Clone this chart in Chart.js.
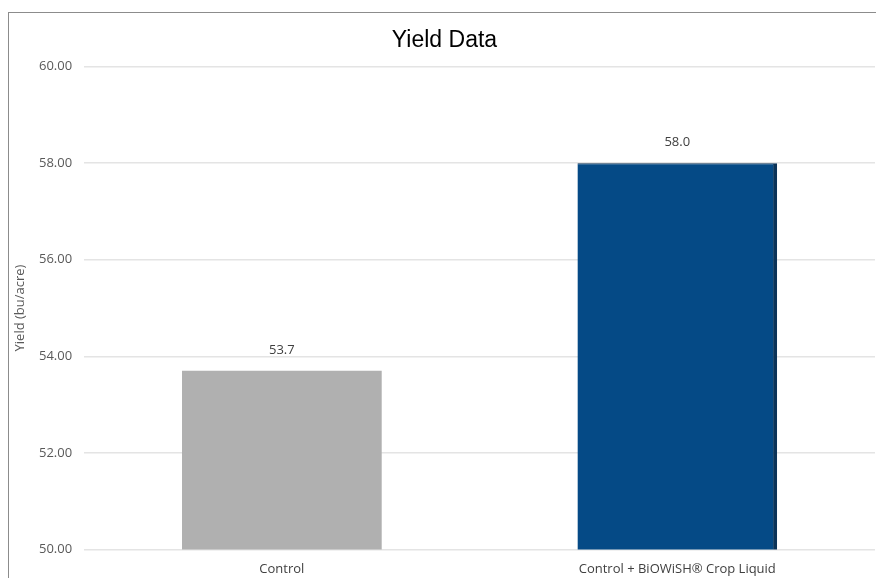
<!DOCTYPE html>
<html>
<head>
<meta charset="utf-8">
<script src="https://cdn.jsdelivr.net/npm/chart.js@4.4.0/dist/chart.umd.min.js"></script>
<style>
  html, body { margin: 0; padding: 0; background: #fff; }
  #wrap { position: relative; width: 876px; height: 578px; overflow: hidden; }
  #frame { position: absolute; left: 8px; top: 12px; width: 900px; height: 600px;
           border-left: 1px solid #8c8c8c; border-top: 1px solid #8c8c8c; }
  canvas { position: absolute; left: 0; top: 0; }
</style>
</head>
<body>
<div id="wrap">
  <div id="frame"></div>
  <canvas id="yieldChart" width="876" height="589"></canvas>
</div>
<script>
const categories = ['Control', 'Control + BiOWiSH\u00ae Crop Liquid'];
const yieldValues = [53.7, 58.0];
const barColors = ['#b0b0b0', '#054a86'];
const edgeColors = ['#b0b0b0', '#0b3358'];

const tickFont = "'Open Sans', sans-serif";

// draws the value above each bar, one decimal like the original
const valueLabels = {
    id: 'valueLabels',
    afterDatasetsDraw(chart) {
        const ctx = chart.ctx;
        const meta = chart.getDatasetMeta(0);
        ctx.save();
        ctx.font = '13px ' + tickFont;
        ctx.fillStyle = '#404040';
        ctx.textAlign = 'center';
        ctx.textBaseline = 'bottom';
        meta.data.forEach((bar, i) => {
            ctx.fillText(yieldValues[i].toFixed(1), bar.x, bar.y - 14);
        });
        ctx.restore();
    }
};

const ctx = document.getElementById('yieldChart');
new Chart(ctx, {
    type: 'bar',
    data: {
        labels: categories,
        datasets: [{
            data: yieldValues,
            backgroundColor: barColors,
            borderColor: edgeColors,
            borderWidth: [0, {top: 1, right: 4, bottom: 0, left: 0}],
            borderSkipped: false,
            barPercentage: 0.505,
            categoryPercentage: 1.0
        }]
    },
    options: {
        responsive: false,
        animation: false,
        devicePixelRatio: 1,
        layout: { padding: { left: 14, right: 1, top: 27, bottom: 0 } },
        plugins: {
            legend: { display: false },
            tooltip: { enabled: false },
            title: {
                display: true,
                text: 'Yield Data',
                color: '#000',
                font: { family: "'Liberation Sans', Arial, sans-serif", size: 23, weight: 'normal' },
                padding: { top: 0, bottom: 12 }
            }
        },
        scales: {
            x: {
                grid: { display: false, drawTicks: false },
                border: { display: false },
                ticks: { color: '#404040', font: { family: tickFont, size: 13 }, padding: 12 }
            },
            y: {
                min: 50,
                max: 60,
                ticks: {
                    stepSize: 2,
                    color: '#595959',
                    padding: 12,
                    font: { family: tickFont, size: 13 },
                    callback: v => v.toFixed(2)
                },
                grid: { color: '#e4e4e4', lineWidth: 1.5, drawTicks: false },
                border: { display: false },
                title: {
                    display: true,
                    text: 'Yield (bu/acre)',
                    color: '#595959',
                    font: { family: tickFont, size: 13, lineHeight: 1 },
                    padding: { top: 0, bottom: 0 }
                }
            }
        }
    },
    plugins: [valueLabels]
});
</script>
</body>
</html>
